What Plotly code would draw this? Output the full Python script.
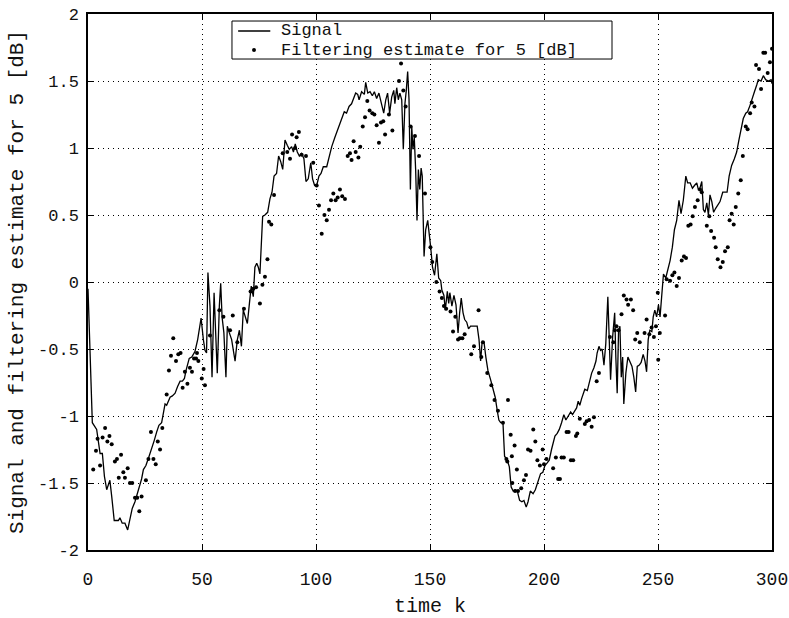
import plotly.graph_objects as go

# Signal (solid line)
sig_k = [0, 1.9, 3.8, 4.5, 5.3, 6.3, 7.2, 8.2, 9.6, 10.4, 11.5, 13.3, 14, 15, 16.2, 17.4, 18.4, 19.4, 20.6, 22,
         23.5, 24.3, 25.4, 26.8, 27.9, 29.1, 30.1, 31.1, 32.3, 33, 33.8, 34.5, 35.2, 36, 37, 38.2, 39.3, 40.4, 41.4,
         42.3, 43, 43.7, 44.4, 45.5, 46.9, 48.1, 49.6, 50.6, 51.3, 52, 52.6, 53.5, 54.4, 55.3, 56.1, 56.7, 57.6,
         58.2, 58.8, 59.6, 60.5, 61.1, 62, 63, 64.5, 65.5, 66.4, 67.3, 68.1, 68.9, 69.9, 70.8, 71.6, 72.5, 73.2,
         74, 74.7, 75.4, 76.6, 77.6, 78.8, 79.8, 80.7, 81.6, 82.7, 83.6, 84.5, 85.4, 86.4, 87.4, 88.3, 89.3, 90.1,
         90.9, 91.8, 92.7, 93.7, 94.7, 95.6, 96.6, 97.7, 98.5, 99.4, 100.3, 101.3, 102.2, 103.2, 104.7, 105.7,
         106.9, 108.3, 109.8, 111.3, 112.4, 113.4, 114.5, 115.6, 116.4, 117.4, 118.3, 118.9, 120, 121.2, 121.8,
         122.7, 123.7, 124.7, 125.6, 126.6, 127.6, 128.8, 129.7, 130.6, 131.4, 132.3, 133.2, 134.1, 134.6, 135.4,
         136.1, 136.8, 137.6, 138.3, 139, 139.6, 140.2, 140.8, 141.4, 142, 142.5, 143.1, 143.7, 144.3, 144.9,
         145.5, 146.1, 146.6, 147.4, 148.1, 149, 150.3, 151.1, 152, 153, 153.8, 154.7, 155.2, 156.1, 156.7,
         157.6, 158.2, 158.7, 159.6, 160.5, 161.4, 162.3, 163, 163.7, 164.5, 165.2, 166.1, 166.9, 167.8, 168.8,
         169.9, 170.7, 171.5, 172.2, 172.8, 173.7, 174.5, 175.4, 176.6, 177.6, 178.6, 179.5, 180.2, 181, 182,
         182.7, 183.9, 184.8, 185.6, 186.5, 187.4, 188.3, 189.3, 190.3, 191.2, 192.2, 193, 194, 195.2, 196.2,
         197.3, 198.5, 199.5, 200.4, 201.4, 202.3, 203.3, 204, 204.8, 205.8, 206.7, 207.7, 208.7, 209.6, 210.6,
         211.7, 212.5, 213.5, 214.3, 215, 215.7, 216.5, 217.2, 217.9, 219, 219.8, 220.9, 221.9, 222.8, 223.3,
         224.1, 224.8, 225.5, 226.3, 227.1, 228, 228.6, 229.2, 230.1, 231, 231.5, 232.1, 232.7, 233.3, 233.9,
         234.5, 235, 235.9, 236.8, 237.7, 238.6, 239.4, 240.2, 240.9, 241.8, 242.6, 243.5, 244.3, 245, 245.7,
         246.4, 247.3, 247.9, 248.6, 249.4, 250.2, 250.9, 251.6, 252.4, 253.4, 254.3, 255.3, 256.3, 257.2,
         258.2, 259.2, 260.1, 261.1, 262.2, 263, 264.1, 265.1, 266, 267, 267.7, 268.4, 269.2, 269.9, 270.6,
         271.4, 272.1, 272.8, 273.6, 274.4, 275.3, 276.2, 277.2, 278.4, 279.4, 280.3, 281.2, 282.3, 283.5,
         284.5, 285.5, 286.4, 287.4, 288.5, 289.3, 290.4, 291.4, 292.3, 293.3, 294, 295.2, 296.2, 297.2, 298.4,
         299.6, 300]
sig_v = [-0.05, -1.05, -1.10, -1.17, -1.28, -1.28, -1.45, -1.55, -1.48, -1.60, -1.78, -1.78, -1.76, -1.80, -1.80,
         -1.85, -1.78, -1.69, -1.64, -1.56, -1.47, -1.40, -1.37, -1.30, -1.25, -1.18, -1.12, -1.07, -1.05, -0.97,
         -0.91, -0.92, -0.89, -0.86, -0.85, -0.83, -0.78, -0.74, -0.74, -0.72, -0.66, -0.62, -0.57, -0.56, -0.52,
         -0.43, -0.27, -0.43, -0.51, -0.53, 0.07, -0.18, -0.71, -0.08, -0.43, -0.68, -0.18, -0.01, -0.26, -0.38,
         -0.71, -0.33, -0.38, -0.43, -0.59, -0.43, -0.36, -0.48, -0.21, -0.26, -0.31, -0.16, -0.03, -0.11, 0.11,
         0.14, 0.11, 0.06, 0.49, 0.50, 0.52, 0.62, 0.67, 0.79, 0.81, 0.94, 0.90, 0.84, 1.06, 1.02, 0.99, 1.01,
         0.97, 1.03, 0.97, 0.94, 0.96, 0.92, 0.75, 0.77, 0.89, 0.77, 0.72, 0.72, 0.79, 0.81, 0.86, 0.86, 0.94,
         1.01, 1.08, 1.15, 1.21, 1.27, 1.26, 1.31, 1.33, 1.36, 1.41, 1.40, 1.36, 1.42, 1.40, 1.49, 1.41, 1.42,
         1.39, 1.42, 1.37, 1.41, 1.32, 1.26, 1.36, 1.41, 1.26, 1.38, 1.43, 1.33, 1.45, 1.36, 1.41, 1.36, 0.99,
         1.33, 1.43, 1.57, 1.36, 0.69, 1.16, 0.99, 1.08, 0.84, 0.46, 0.84, 0.69, 0.85, 0.79, 0.19, 0.39, 0.46,
         0.26, 0.11, 0.05, 0.21, 0.03, 0.01, -0.06, -0.10, -0.21, -0.07, -0.16, -0.08, -0.18, -0.10, -0.17,
         -0.38, -0.23, -0.12, -0.23, -0.28, -0.30, -0.35, -0.33, -0.33, -0.33, -0.33, -0.43, -0.59, -0.46, -0.45,
         -0.56, -0.66, -0.73, -0.79, -0.86, -0.96, -1.03, -1.05, -1.05, -1.30, -1.33, -1.38, -1.53, -1.56, -1.55,
         -1.56, -1.63, -1.64, -1.63, -1.68, -1.64, -1.56, -1.58, -1.55, -1.49, -1.43, -1.42, -1.37, -1.35, -1.33,
         -1.25, -1.20, -1.15, -1.13, -1.10, -1.05, -0.99, -1.03, -1.00, -0.97, -0.99, -0.96, -0.94, -0.89, -0.92,
         -0.87, -0.84, -0.80, -0.81, -0.76, -0.68, -0.64, -0.59, -0.53, -0.48, -0.51, -0.50, -0.62, -0.46, -0.11,
         -0.36, -0.73, -0.41, -0.23, -0.56, -0.83, -0.36, -0.33, -0.71, -0.56, -0.91, -0.68, -0.56, -0.59, -0.63,
         -0.71, -0.82, -0.63, -0.62, -0.60, -0.54, -0.59, -0.67, -0.43, -0.36, -0.37, -0.26, -0.21, -0.26, -0.17,
         -0.26, -0.11, 0.06, 0.03, 0.09, 0.16, 0.26, 0.39, 0.46, 0.61, 0.51, 0.61, 0.79, 0.74, 0.74, 0.70, 0.72,
         0.74, 0.69, 0.70, 0.75, 0.54, 0.52, 0.59, 0.50, 0.65, 0.60, 0.52, 0.55, 0.57, 0.60, 0.67, 0.67, 0.67,
         0.79, 0.87, 0.92, 0.97, 1.06, 1.13, 1.22, 1.26, 1.27, 1.32, 1.38, 1.42, 1.47, 1.51, 1.50, 1.54, 1.51,
         1.50, 1.51, 1.48]

# Filtering estimate (dots)
est_k = [2.3, 3.5, 4.2, 5.3, 6.4, 7.5, 8.5, 9.4, 10.4, 11.8, 12.7, 13.5, 14.5, 15.5, 16.2, 17.4, 18.4, 19.4,
         20.6, 21.6, 22.5, 23.5, 25.4, 26.5, 27.6, 28.7, 29.7, 30.6, 31.6, 32.6, 34.5, 35.5, 36.4, 37.4, 38.6,
         39.6, 40.6, 41.5, 42.5, 43.6, 44.7, 45.6, 46.5, 47.4, 47.8, 48.4, 49.9, 50.7, 51.3, 53.5, 57.6, 59.4,
         62.3, 63.5, 65.5, 68.4, 71.3, 72.5, 73.7, 75.4, 76.5, 77.6, 78.7, 79.4, 80.4, 81.6, 85.4, 87.4, 88.6,
         89.5, 90.8, 91.5, 92.5, 93.7, 95.6, 98.8, 100.3, 101.3, 102.5, 103.7, 104.7, 105.7, 106.6, 107.6, 108.6,
         109.5, 110.5, 111.5, 112.7, 113.9, 114.9, 115.6, 116.5, 117.4, 118.6, 119.4, 120.5, 121.5, 122.5,
         123.5, 124.7, 125.6, 126.6, 127.6, 128.5, 129.5, 130.3, 132, 133.5, 136.4, 137.3, 138.3, 139.3, 141.5,
         143.4, 145.2, 147.8, 150.2, 151, 152.8, 154.2, 155.2, 156.1, 157.1, 159, 160.1, 161.1, 162.3, 163.1,
         164.2, 165.2, 168.1, 169.3, 171.3, 172.5, 173.2, 175.1, 176.9, 178.3, 179.8, 182, 183.5, 183.9, 184.2,
         185.4, 185.9, 186.1, 187.1, 187.3, 188.1, 188.6, 190, 191.2, 192.1, 193, 194.1, 195.3, 196.2, 197.1,
         198.2, 199.4, 200, 201.1, 204, 205.2, 206.2, 207, 207.7, 208.7, 209.9, 210.8, 211.8, 212.8, 214, 214.6,
         215.7, 217.9, 218.7, 219.8, 220.9, 221.9, 223.1, 224.1, 228.9, 230.4, 231.1, 231.8, 232.7, 234, 235,
         236.2, 236.9, 238.1, 239.1, 240, 240.9, 242, 244.1, 245, 246.2, 247.2, 248.2, 249.1, 250.1, 250.8,
         249.9, 253.1, 253.8, 255.3, 256.3, 257.2, 258.2, 259.2, 260.4, 261.4, 262.3, 263.3, 264.3, 265.2,
         266.2, 267.4, 268.4, 269.2, 271.4, 272.5, 273.3, 274.6, 275.3, 276.2, 277.4, 278.4, 279.4, 280.6,
         281.4, 282.3, 283.2, 284.1, 285.2, 286.3, 287.2, 288.5, 289.3, 290.4, 291.1, 292.3, 293, 294.3, 295.2,
         296.2, 297, 298.1, 299.1, 300]
est_v = [-1.40, -1.26, -1.17, -1.37, -1.16, -1.09, -1.19, -1.15, -1.21, -1.34, -1.32, -1.46, -1.29, -1.42,
         -1.46, -1.39, -1.50, -1.50, -1.61, -1.61, -1.71, -1.60, -1.48, -1.32, -1.12, -1.32, -1.36, -1.19, -1.25,
         -1.09, -0.84, -0.66, -0.55, -0.42, -0.59, -0.54, -0.53, -0.79, -0.67, -0.76, -0.64, -0.67, -0.57, -0.57,
         -0.53, -0.59, -0.72, -0.65, -0.77, -0.40, -0.21, -0.26, -0.36, -0.25, -0.45, -0.20, -0.07, -0.05, -0.04,
         -0.16, -0.02, 0.04, 0.17, 0.45, 0.43, 0.65, 0.96, 0.97, 0.92, 1.10, 1.00, 1.08, 1.12, 0.95, 0.94, 0.89,
         0.72, 0.57, 0.36, 0.50, 0.46, 0.54, 0.61, 0.66, 0.61, 0.63, 0.69, 0.64, 0.62, 0.94, 0.96, 0.91, 1.05,
         0.97, 0.93, 1.01, 1.16, 1.23, 1.35, 1.28, 1.26, 1.25, 1.17, 1.04, 1.19, 1.20, 1.10, 1.25, 1.13, 1.50,
         1.63, 1.43, 1.31, 1.16, 1.09, 0.94, 0.66, 0.26, 0.15, 0.00, -0.07, -0.12, -0.18, -0.20, -0.22, -0.37,
         -0.26, -0.43, -0.42, -0.42, -0.39, -0.54, -0.48, -0.21, -0.56, -0.45, -0.68, -0.77, -0.88, -0.96, -1.05,
         -1.32, -1.34, -0.88, -1.14, -1.30, -1.50, -1.22, -1.56, -1.40, -1.56, -1.54, -1.48, -1.44, -1.25, -1.26,
         -1.10, -1.19, -1.33, -1.37, -1.25, -1.36, -1.32, -1.39, -1.31, -1.47, -1.47, -1.31, -1.31, -1.12, -1.12,
         -1.33, -1.33, -1.15, -1.13, -1.02, -1.06, -1.04, -1.03, -1.08, -1.01, -0.74, -0.68, -0.41, -0.45, -0.36,
         -0.33, -0.36, -0.24, -0.10, -0.13, -0.17, -0.13, -0.21, -0.43, -0.38, -0.45, -0.38, -0.28, -0.39, -0.34,
         -0.41, -0.33, -0.58, -0.38, -0.08, -0.25, 0.02, 0.01, 0.05, 0.07, -0.03, 0.03, 0.16, 0.19, 0.18, 0.42,
         0.43, 0.49, 0.56, 0.61, 0.69, 0.67, 0.42, 0.49, 0.38, 0.33, 0.26, 0.17, 0.11, 0.15, 0.23, 0.26, 0.46,
         0.51, 0.43, 0.56, 0.66, 0.76, 0.94, 1.16, 1.14, 1.26, 1.34, 1.31, 1.62, 1.59, 1.44, 1.71, 1.71, 1.56,
         1.64, 1.74]

x_ticks = [0, 50, 100, 150, 200, 250, 300]
y_ticks = [-2, -1.5, -1, -0.5, 0, 0.5, 1, 1.5, 2]
y_tick_text = ["-2", "-1.5", "-1", "-0.5", "0", "0.5", "1", "1.5", "2"]
legend_names = ["Signal", "Filtering estimate for 5 [dB]"]

MONO = "Liberation Mono, Courier New, monospace"
INK = "#111"

fig = go.Figure()
fig.add_trace(go.Scatter(x=sig_k, y=sig_v, mode="lines", name=legend_names[0], showlegend=False,
                         line=dict(color="black", width=1.3)))
fig.add_trace(go.Scatter(x=est_k, y=est_v, mode="markers", name=legend_names[1], showlegend=False,
                         marker=dict(color="black", size=4), cliponaxis=False))

axis_common = dict(showline=True, linecolor="black", linewidth=1.5, mirror="ticks",
                   ticks="inside", ticklen=6, tickcolor="black", automargin=False,
                   ticklabeloverflow="allow",
                   showgrid=True, gridcolor="black", griddash="1px,4px", gridwidth=1,
                   zeroline=False)

# Legend box drawn in paper coordinates (compact, like the original)
row1, row2 = 0.9683, 0.9328
shapes = [
    dict(type="rect", xref="paper", yref="paper", x0=0.2105, x1=0.7661, y0=0.9160, y1=0.9869,
         line=dict(color="black", width=1), fillcolor="white", layer="above"),
    dict(type="line", xref="paper", yref="paper", x0=0.2195, x1=0.2665, y0=row1, y1=row1,
         line=dict(color="black", width=1.3), layer="above"),
    dict(type="circle", xref="paper", yref="paper", x0=0.2398, x1=0.2456, y0=row2 - 0.0037, y1=row2 + 0.0037,
         line=dict(color="black", width=0), fillcolor="black", layer="above"),
]
annotations = [
    dict(xref="paper", yref="paper", x=0.2805, y=row1, text=legend_names[0], showarrow=False,
         xanchor="left", yanchor="middle", borderpad=0, font=dict(family=MONO, size=17, color=INK)),
    dict(xref="paper", yref="paper", x=0.2805, y=row2, text=legend_names[1], showarrow=False,
         xanchor="left", yanchor="middle", borderpad=0, font=dict(family=MONO, size=17, color=INK)),
]

fig.update_layout(
    width=789, height=618,
    margin=dict(l=88, r=17, t=14, b=68),
    paper_bgcolor="white", plot_bgcolor="white",
    xaxis=dict(range=[0, 300], tickvals=x_ticks, ticktext=[str(t) for t in x_ticks],
               ticklabelstandoff=12, tickfont=dict(family=MONO, size=18, color=INK),
               title=dict(text="time k", font=dict(family=MONO, size=20, color=INK), standoff=10),
               **axis_common),
    yaxis=dict(range=[-2, 2], tickvals=y_ticks, ticktext=y_tick_text, ticklabelstandoff=4,
               tickfont=dict(family=MONO, size=17, color=INK),
               title=dict(text="Signal and filtering estimate for 5 [dB]",
                          font=dict(family=MONO, size=21, color=INK), standoff=9),
               **axis_common),
    shapes=shapes,
    annotations=annotations,
    showlegend=False,
)

# remove the browser's default 8px page margin so the figure fills the window exactly
fig.write_html("out.html",
               config={"displayModeBar": False},
               post_script="document.body.style.margin='0';document.body.style.overflow='hidden';")
